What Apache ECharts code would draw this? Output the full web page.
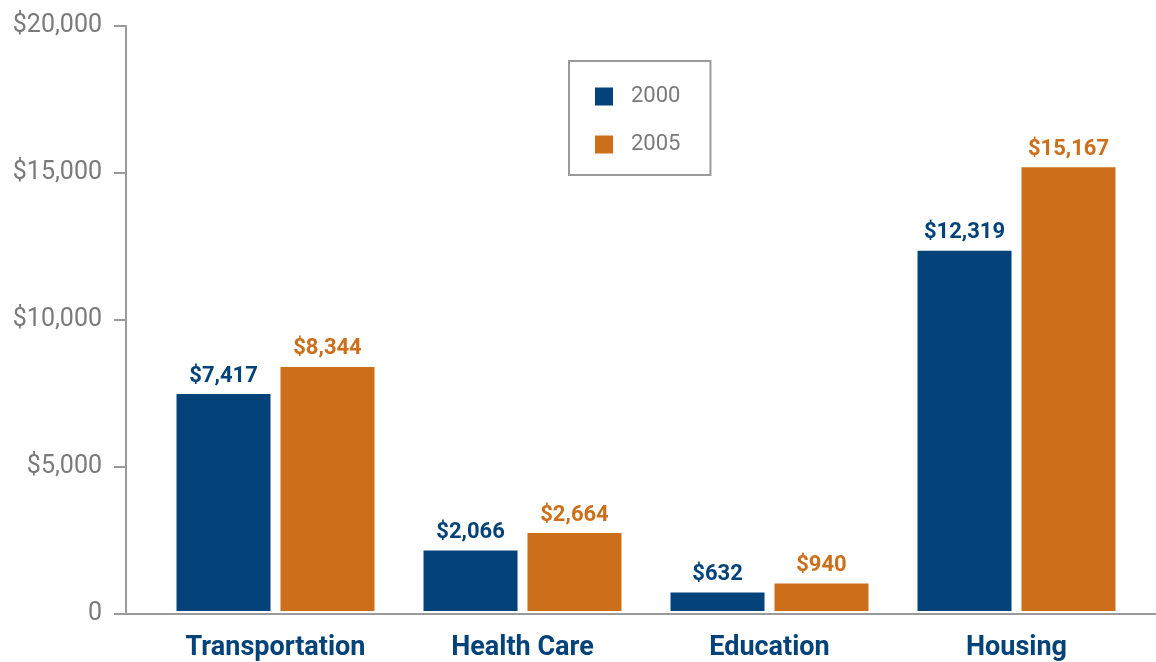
<!DOCTYPE html>
<html>
<head>
<meta charset="utf-8">
<script src="https://cdn.jsdelivr.net/npm/echarts@6/dist/echarts.min.js"></script>
<style>
  html, body { margin: 0; padding: 0; background: #fff; }
  #chart { width: 1156px; height: 662px; }
</style>
</head>
<body>
<div id="chart"></div>
<script>
const categories = ['Transportation', 'Health Care', 'Education', 'Housing'];
const values2000 = [7417, 2066, 632, 12319];
const values2005 = [8344, 2664, 940, 15167];
const yTicks = [0, 5000, 10000, 15000, 20000];

const BLUE = '#03437a';
const ORANGE = '#cd6f1a';
const GRAY = '#7a7a7c';
const AXIS = '#9a9a9c';

const fmtMoney = (v) => '$' + v.toLocaleString('en-US');

const chart = echarts.init(document.getElementById('chart'));

const labelStyle = (color) => ({
  show: true,
  position: 'top',
  distance: 7,
  color,
  fontFamily: 'Roboto',
  fontWeight: 'bold',
  fontSize: 22,
  formatter: (p) => fmtMoney(p.value),
});

chart.setOption({
  animation: false,
  grid: [
    { left: 152, right: 16, top: 26, bottom: 48 },
    { left: 126, right: 0, top: 26, bottom: 48 },
  ],
  legend: {
    data: ['2000', '2005'],
    orient: 'vertical',
    left: 569,
    top: 61,
    padding: [24, 30, 19, 26],
    borderColor: AXIS,
    borderWidth: 2,
    itemWidth: 18,
    itemHeight: 18,
    itemGap: 25,
    icon: 'rect',
    textStyle: {
      color: GRAY,
      fontFamily: 'Roboto',
      fontSize: 22,
      lineHeight: 18,
      padding: [5, 0, 0, 13],
    },
  },
  xAxis: [
    {
      type: 'category',
      gridIndex: 0,
      data: categories,
      axisLine: { show: false },
      axisTick: { show: false },
      axisLabel: {
        margin: 24,
        color: BLUE,
        fontFamily: 'Roboto',
        fontWeight: 'bold',
        fontSize: 27,
      },
    },
    {
      type: 'value',
      gridIndex: 1,
      min: 0,
      max: 1,
      axisLine: { show: true, lineStyle: { color: AXIS, width: 2 } },
      axisTick: { show: false },
      axisLabel: { show: false },
      splitLine: { show: false },
    },
  ],
  yAxis: [
    {
      type: 'value',
      gridIndex: 0,
      min: yTicks[0],
      max: yTicks[yTicks.length - 1],
      interval: 5000,
      show: false,
      splitLine: { show: false },
    },
    {
      type: 'value',
      gridIndex: 1,
      min: yTicks[0],
      max: yTicks[yTicks.length - 1],
      interval: 5000,
      axisLine: { show: true, lineStyle: { color: AXIS, width: 2 } },
      axisTick: { show: true, length: 12, lineStyle: { color: AXIS, width: 2 } },
      splitLine: { show: false },
      axisLabel: {
        margin: 24,
        color: GRAY,
        fontFamily: 'Roboto',
        fontSize: 25,
        formatter: (v) => (v === 0 ? '0' : fmtMoney(v)),
      },
    },
  ],
  series: [
    {
      name: '2000',
      type: 'bar',
      xAxisIndex: 0,
      yAxisIndex: 0,
      data: values2000,
      barWidth: 94,
      barGap: '10.6%',
      itemStyle: { color: BLUE },
      label: labelStyle(BLUE),
    },
    {
      name: '2005',
      type: 'bar',
      xAxisIndex: 0,
      yAxisIndex: 0,
      data: values2005,
      barWidth: 94,
      barGap: '10.6%',
      itemStyle: { color: ORANGE },
      label: labelStyle(ORANGE),
    },
  ],
});
</script>
</body>
</html>
